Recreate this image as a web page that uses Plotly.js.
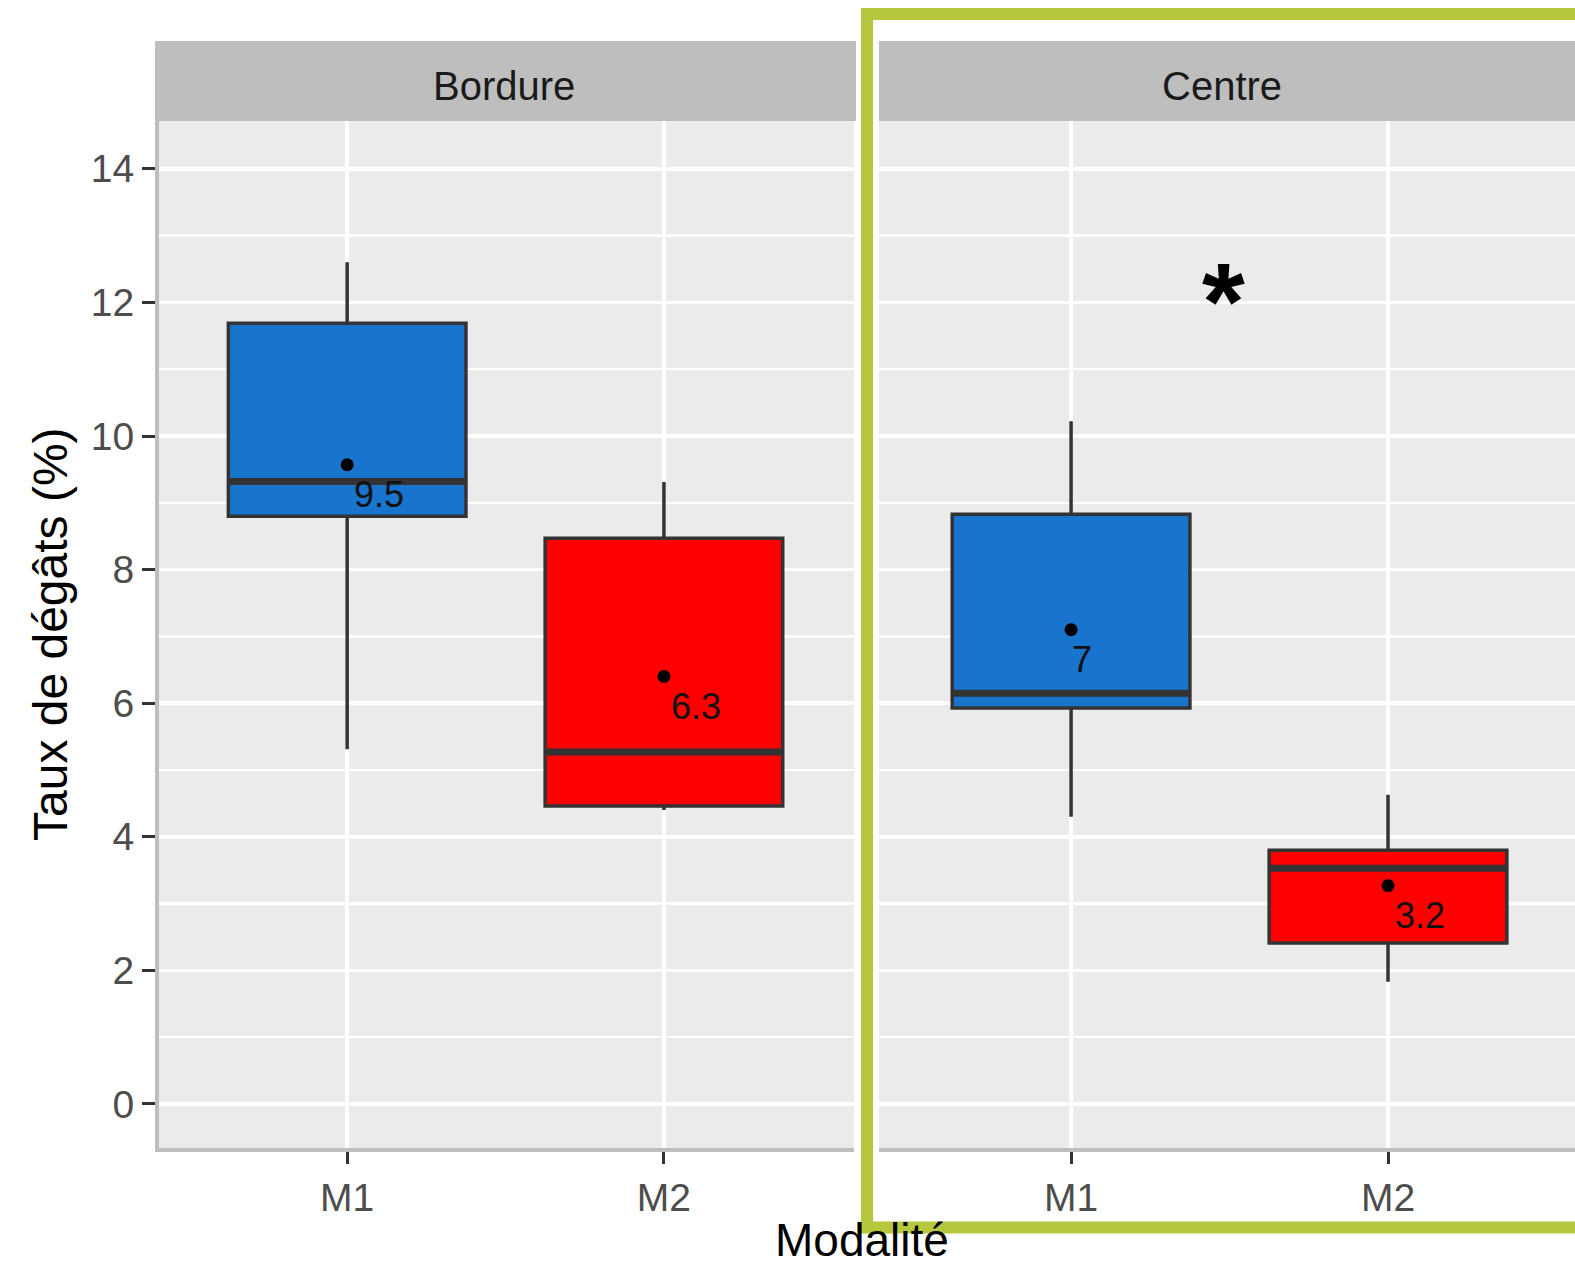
<!DOCTYPE html>
<html>
<head>
<meta charset="utf-8">
<script src="https://cdn.plot.ly/plotly-3.0.1.min.js"></script>
<style>
html,body{margin:0;padding:0;background:#fff;}
#chart{width:1575px;height:1270px;}
</style>
</head>
<body>
<div id="chart"></div>
<script>
// ---------- data ----------
const categories = ['M1', 'M2'];
const facets = ['Bordure', 'Centre'];
const yTicks = [0, 2, 4, 6, 8, 10, 12, 14];

const bordureLower  = [5.31, 4.40];
const bordureQ1     = [8.80, 4.46];
const bordureMedian = [9.32, 5.27];
const bordureQ3     = [11.69, 8.47];
const bordureUpper  = [12.60, 9.31];
const bordureMean   = [9.57, 6.40];
const bordureMeanLabel = ['9.5', '6.3'];

const centreLower  = [4.30, 1.83];
const centreQ1     = [5.93, 2.41];
const centreMedian = [6.15, 3.53];
const centreQ3     = [8.83, 3.80];
const centreUpper  = [10.22, 4.63];
const centreMean   = [7.10, 3.27];
const centreMeanLabel = ['7', '3.2'];

const fillColors = ['#1874CD', '#FF0000'];
const starLabel = '*';
const starX = 1.5;
const starY = 12.3;

// ---------- build ----------
const W = 1575, H = 1270;
const px = v => v / W;
const py = v => 1 - v / H;
const boxWidth = 0.75;
const FONT = '"Liberation Sans", Arial, sans-serif';

const panels = [
  {xa: 'x',  lower: bordureLower, q1: bordureQ1, med: bordureMedian, q3: bordureQ3, up: bordureUpper, mean: bordureMean, lab: bordureMeanLabel},
  {xa: 'x2', lower: centreLower,  q1: centreQ1,  med: centreMedian,  q3: centreQ3,  up: centreUpper,  mean: centreMean,  lab: centreMeanLabel}
];

const traces = [];
const annotations = [];
panels.forEach(p => {
  categories.forEach((c, i) => {
    const xv = i + 1;
    traces.push({
      type: 'box', xaxis: p.xa, yaxis: 'y',
      x: [xv], q1: [p.q1[i]], median: [p.med[i]], q3: [p.q3[i]],
      lowerfence: [p.lower[i]], upperfence: [p.up[i]],
      width: boxWidth, whiskerwidth: 0, boxpoints: false,
      fillcolor: fillColors[i], line: {color: '#333333', width: 3.5},
      hoverinfo: 'skip', showlegend: false
    });
    traces.push({
      type: 'scatter', mode: 'lines', xaxis: p.xa, yaxis: 'y',
      x: [xv - boxWidth / 2, xv + boxWidth / 2], y: [p.med[i], p.med[i]],
      line: {color: '#333333', width: 7}, hoverinfo: 'skip', showlegend: false
    });
    traces.push({
      type: 'scatter', mode: 'markers', xaxis: p.xa, yaxis: 'y',
      x: [xv], y: [p.mean[i]],
      marker: {color: '#000000', size: 13},
      hoverinfo: 'skip', showlegend: false
    });
    annotations.push({
      xref: p.xa, yref: 'y', x: xv, y: p.mean[i], text: p.lab[i],
      showarrow: false, xanchor: 'left', yanchor: 'middle',
      xshift: 3 * p.lab[i].length - 4, yshift: -30,
      font: {family: FONT, size: 36, color: '#111111'}
    });
  });
});

annotations.push({
  xref: 'x2', yref: 'y', x: starX, y: starY, text: '<b>' + starLabel + '</b>',
  showarrow: false, xanchor: 'center', yanchor: 'middle', xshift: -6, yshift: -18,
  font: {family: FONT, size: 110, color: '#000000'}
});

// strip texts
const stripCenters = [504, 1222];
facets.forEach((f, i) => {
  annotations.push({
    xref: 'paper', yref: 'paper',
    x: px(stripCenters[i]), y: py(86),
    text: f, showarrow: false, xanchor: 'center', yanchor: 'middle',
    font: {family: FONT, size: 40, color: '#1A1A1A'}
  });
});
// axis titles
annotations.push({
  xref: 'paper', yref: 'paper', x: px(50), y: py(634),
  text: 'Taux de dégâts (%)', textangle: -90, showarrow: false,
  xanchor: 'center', yanchor: 'middle',
  font: {family: FONT, size: 48, color: '#000000'}
});
annotations.push({
  xref: 'paper', yref: 'paper', x: px(862), y: py(1240),
  text: 'Modalité', showarrow: false, xanchor: 'center', yanchor: 'middle',
  font: {family: FONT, size: 46, color: '#000000'}
});

const shapes = [
  {type: 'rect', xref: 'paper', yref: 'paper', x0: px(155), x1: px(856), y0: py(121), y1: py(41),
   fillcolor: '#BEBEBE', line: {width: 0}, layer: 'below'},
  {type: 'rect', xref: 'paper', yref: 'paper', x0: px(879), x1: px(1600), y0: py(121), y1: py(41),
   fillcolor: '#BEBEBE', line: {width: 0}, layer: 'below'},
  {type: 'rect', xref: 'paper', yref: 'paper', x0: px(867), x1: px(1640), y0: py(1227.5), y1: py(14),
   fillcolor: 'rgba(0,0,0,0)', line: {color: '#B7C73D', width: 12}, layer: 'above'}
];

const xCommon = {
  tickvals: [1, 2], ticktext: categories,
  showgrid: true, gridcolor: '#FFFFFF', gridwidth: 3.5,
  zeroline: false, showline: true, linecolor: '#BEBEBE', linewidth: 4,
  ticks: 'outside', ticklen: 12, tickwidth: 3, tickcolor: '#333333',
  tickfont: {family: FONT, size: 39, color: '#4D4D4D'},
  fixedrange: true
};

const layout = {
  width: W, height: H,
  margin: {l: 0, r: 0, t: 0, b: 0, pad: 0},
  paper_bgcolor: '#FFFFFF', plot_bgcolor: '#EBEBEB',
  showlegend: false,
  font: {family: FONT},
  xaxis: Object.assign({}, xCommon, {domain: [px(159), px(854)], range: [0.406, 2.6], anchor: 'y'}),
  xaxis2: Object.assign({}, xCommon, {domain: [px(879), 1], range: [0.394, 2.59], anchor: 'y'}),
  yaxis: {
    domain: [py(1148), py(121)], range: [-0.659, 14.716],
    tickvals: yTicks, ticktext: yTicks.map(String),
    showgrid: true, gridcolor: '#FFFFFF', gridwidth: 3.5,
    minor: {dtick: 1, tick0: 0, showgrid: true, gridcolor: '#FFFFFF', gridwidth: 2.5, ticks: ''},
    zeroline: false, showline: true, linecolor: '#BEBEBE', linewidth: 4,
    ticks: 'outside', ticklen: 13, tickwidth: 3, tickcolor: '#333333',
    tickfont: {family: FONT, size: 39, color: '#4D4D4D'},
    anchor: 'x', fixedrange: true
  },
  shapes: shapes,
  annotations: annotations
};

Plotly.newPlot('chart', traces, layout, {staticPlot: true, displayModeBar: false});
</script>
</body>
</html>
